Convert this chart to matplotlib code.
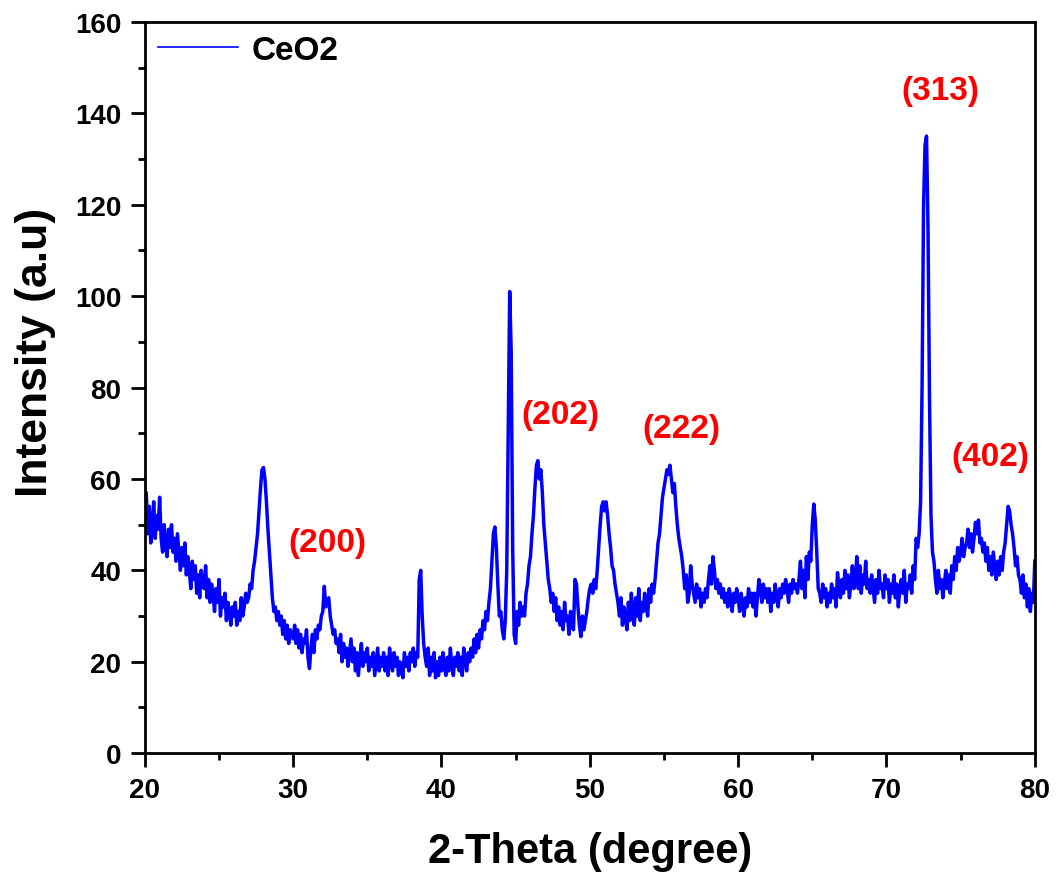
import numpy as np
import matplotlib
matplotlib.use("Agg")
import matplotlib.pyplot as plt
from matplotlib.ticker import MultipleLocator

plt.rcParams['font.family'] = ['Liberation Sans', 'DejaVu Sans']
plt.rcParams['font.weight'] = 'bold'

# 2-theta grid, 0.1 degree step, 20 -> 80
two_theta = np.round(np.arange(20.0, 80.05, 0.1), 1)

# intensity, one row per degree
intensity = [
    52, 57, 48, 54, 46, 50, 55, 47, 52, 49,
    56, 47, 44, 50, 46, 43, 49, 45, 50, 44,
    47, 42, 48, 44, 40, 45, 41, 46, 39, 43,
    40, 36, 42, 38, 41, 35, 39, 34, 40, 37,
    36, 41, 34, 38, 33, 37, 35, 31, 36, 33,
    38, 30, 34, 32, 35, 29, 33, 31, 28, 32,
    30, 33, 28, 31, 29, 34, 30, 32, 35, 33,
    34, 37, 36, 40, 42, 45, 48, 53, 58, 62,
    62.5, 60, 55, 49, 44, 39, 34, 31, 32, 29,
    31, 28, 30, 26, 29, 25, 28, 24, 27, 26,
    25, 28, 24, 27, 23, 26, 22, 25, 24, 27,
    21, 18.5, 23, 26, 22, 27, 25, 28, 27, 30,
    31, 36.5, 32, 33, 34, 30, 28, 26, 27, 24,
    25, 22, 26, 20, 24, 21, 23, 19, 22, 25,
    20, 23, 18, 22, 17, 21, 24, 19, 22, 20,
    23, 18, 21, 19, 22, 17, 20, 23, 18, 21,
    19, 22, 18, 21, 17, 23, 20, 18, 22, 19,
    21, 17, 20, 18, 16.5, 22, 19, 21, 18, 22,
    20, 23, 19, 22, 21, 38, 40, 30, 24, 21,
    19, 23, 17, 21, 18, 22, 16.5, 20, 17, 21,
    18, 22, 19, 17, 21, 18, 23, 19, 17, 21,
    19, 22, 18, 21, 17, 23, 20, 18, 22, 20,
    23, 21, 25, 22, 26, 23, 27, 25, 29, 27,
    31, 29, 33, 36, 42, 48, 49.5, 45, 37, 30,
    31, 27, 25, 29, 40, 70, 101, 88, 45, 26,
    24, 31, 28, 33, 30, 32, 30, 35, 37, 41,
    43, 48, 52, 58, 63, 64, 60, 62, 57, 50,
    46, 42, 38, 36, 33, 35, 31, 34, 29, 32,
    28, 31, 27, 33, 29, 30, 26, 31, 28, 27,
    38, 37, 32, 28, 25.5, 30, 27, 29, 31, 34,
    36, 37, 35, 38, 36, 40, 45, 50, 54, 55,
    53, 55, 52, 48, 45, 41, 40, 37, 35, 33,
    30, 34, 28, 32, 30, 27, 33, 29, 35, 31,
    28, 34, 30, 36, 29, 33, 31, 35, 32, 30,
    36, 33, 37, 35, 38, 42, 46, 48, 52, 56,
    58, 60, 62, 61, 63, 60, 57, 59, 54, 50,
    47, 45, 43, 40, 36, 39, 33, 35, 41, 37,
    35, 33, 37, 34, 36, 32, 35, 33, 36, 34,
    38, 41, 37, 43, 40, 36, 38, 35, 37, 34,
    36, 33, 35, 32, 36, 34, 31, 35, 33, 36,
    34, 31, 35, 33, 30, 34, 32, 36, 33, 35,
    32, 35, 30, 34, 38, 36, 33, 37, 34, 36,
    33, 36, 31, 35, 33, 37, 34, 32, 36, 34,
    37, 35, 38, 36, 33, 37, 35, 38, 36, 37,
    35, 38, 42, 36, 40, 34, 43, 38, 44, 42,
    50, 54.5, 51, 44, 36, 35, 33, 37, 34, 36,
    32, 35, 33, 37, 34, 36, 32, 39.5, 36, 34,
    38, 35, 40, 36, 39, 34, 37, 41, 36, 38,
    43, 36, 41, 35, 39, 37, 42, 36, 38, 35,
    39, 36, 33, 38, 35, 40, 36, 37, 34, 39,
    36, 38, 33, 37, 35, 39, 34, 37, 32, 36,
    38, 35, 40, 33, 37, 36, 39, 35, 41, 38,
    47, 45, 48, 55, 80, 120, 133, 135, 115, 78,
    52, 44, 42, 38, 35, 40, 36, 38, 34, 37,
    40, 36, 39, 35, 41, 38, 43, 40, 45, 42,
    44, 47, 43, 45, 46, 49, 45, 48, 44, 47,
    50.5, 48, 51, 46, 47, 44, 46, 42, 45, 40,
    43, 39, 44, 41, 38, 42, 39, 43, 40, 44,
    46, 50, 54, 53, 50, 48, 45, 41, 43, 39,
    38, 35, 39, 34, 37, 32, 36, 31, 35, 33,
    42,
]

peak_labels = ['(200)', '(202)', '(222)', '(313)', '(402)']
label_x = [32.3, 48.0, 56.2, 73.6, 77.0]
label_y = [46, 74, 71, 145, 65]

fig = plt.figure(figsize=(10.57, 8.78), dpi=100)
ax = fig.add_axes([0.137, 0.141, 0.842, 0.833])

ax.plot(two_theta, intensity, color='#0000ff', lw=2.5, label='CeO2')

for lab, lx, ly in zip(peak_labels, label_x, label_y):
    ax.text(lx, ly, lab, color='red', fontsize=24, fontweight='bold',
            ha='center', va='center')

ax.set_xlim(20, 80)
ax.set_ylim(0, 160)
ax.xaxis.set_major_locator(MultipleLocator(10))
ax.xaxis.set_minor_locator(MultipleLocator(5))
ax.yaxis.set_major_locator(MultipleLocator(20))
ax.yaxis.set_minor_locator(MultipleLocator(10))

ax.tick_params(which='major', direction='out', length=10, width=2, labelsize=20, pad=7)
ax.tick_params(which='minor', direction='out', length=5, width=2)
for lab in ax.get_xticklabels() + ax.get_yticklabels():
    lab.set_fontweight('bold')
for s in ax.spines.values():
    s.set_linewidth(2)

ax.set_xlabel('2-Theta (degree)', fontsize=30, fontweight='bold', labelpad=20)
ax.set_ylabel('Intensity (a.u)', fontsize=32, fontweight='bold')
ax.yaxis.set_label_coords(-0.1, 0.55)

leg = ax.legend(loc='upper left', frameon=False, fontsize=24, handlelength=2.4,
                borderaxespad=0.1, borderpad=0.3, handletextpad=0.4)
for t in leg.get_texts():
    t.set_fontweight('bold')
for l in leg.get_lines():
    l.set_linewidth(1.2)

fig.savefig('out.png', dpi=100)
